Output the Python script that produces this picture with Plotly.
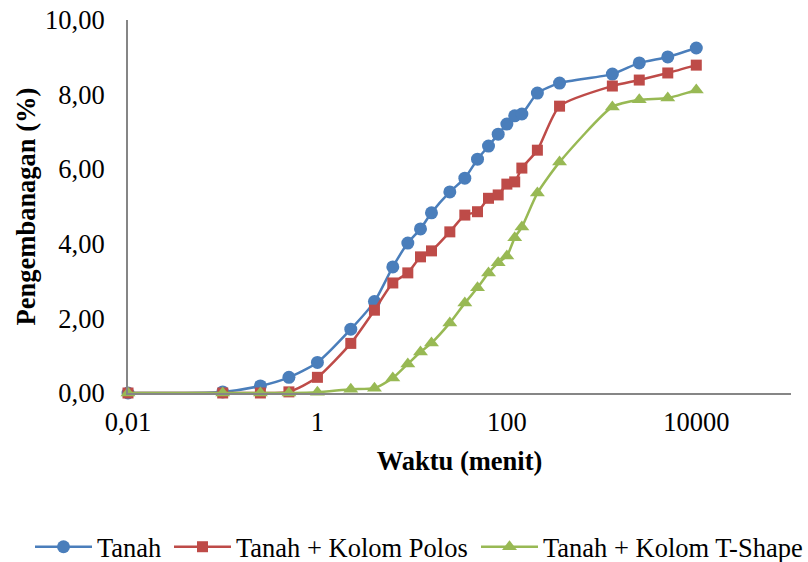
import plotly.graph_objects as go

waktu = [0.01, 0.1, 0.25, 0.5, 1, 2.25, 4, 6.25, 9, 12.25, 16, 25, 36, 49, 64, 81,
         100, 121, 144, 210, 360, 1300, 2500, 5000, 10000]
tanah = [0, 0.03, 0.19, 0.42, 0.82, 1.71, 2.45, 3.38, 4.02, 4.40, 4.83, 5.39, 5.76,
         6.27, 6.62, 6.94, 7.21, 7.43, 7.48, 8.04, 8.31, 8.55, 8.85, 9.01, 9.25]
polos = [0, 0, 0, 0.03, 0.42, 1.33, 2.22, 2.95, 3.22, 3.65, 3.81, 4.32, 4.77,
         4.86, 5.22, 5.31, 5.60, 5.66, 6.03, 6.51, 7.69, 8.23, 8.39, 8.58, 8.79]
tshape = [0, 0, 0, 0, 0.02, 0.10, 0.13, 0.40, 0.78, 1.10, 1.34, 1.88, 2.41,
          2.82, 3.22, 3.49, 3.67, 4.16, 4.45, 5.36, 6.19, 7.67, 7.86, 7.91, 8.12]

series_names = ["Tanah", "Tanah + Kolom Polos", "Tanah + Kolom T-Shape"]
x_tickvals = [0.01, 1, 100, 10000]
x_ticktext = ["0,01", "1", "100", "10000"]
y_tickvals = [0, 2, 4, 6, 8, 10]
y_ticktext = ["0,00", "2,00", "4,00", "6,00", "8,00", "10,00"]

FONT = "Liberation Serif, Times New Roman, serif"
FS = 26.5

styles = [
    dict(color="#4A7EBB", symbol="circle", size=13),
    dict(color="#BE4B48", symbol="square", size=11),
    dict(color="#98B954", symbol="triangle-up", size=13),
]
legend_ids = ["legend", "legend2", "legend3"]
legend_text_x = [97, 236, 543]

fig = go.Figure()
for name, vals, st, lg in zip(series_names, [tanah, polos, tshape], styles, legend_ids):
    fig.add_trace(go.Scatter(
        x=waktu, y=vals, name=name, mode="lines+markers", legend=lg,
        line=dict(color=st["color"], width=2.5, shape="spline", smoothing=0.6),
        marker=dict(color=st["color"], symbol=st["symbol"], size=st["size"]),
        cliponaxis=False,
    ))

legend_common = dict(orientation="h", xref="container", xanchor="left",
                     yref="container", y=(562 - 547) / 562, yanchor="middle",
                     font=dict(family=FONT, size=FS, color="black"),
                     itemwidth=57, bgcolor="rgba(0,0,0,0)")
layout_legends = {}
for lg, tx in zip(legend_ids, legend_text_x):
    layout_legends[lg] = dict(legend_common, x=(tx - 67) / 808)

fig.update_layout(
    width=808, height=562,
    margin=dict(l=128, r=17, t=20, b=169, autoexpand=False),
    paper_bgcolor="white", plot_bgcolor="white",
    font=dict(family=FONT, size=FS, color="black"),
    showlegend=True,
    **layout_legends,
)
fig.update_xaxes(
    type="log", range=[-2, 5],
    tickvals=x_tickvals, ticktext=x_ticktext,
    showgrid=False, zeroline=False,
    showline=True, linecolor="#868686", linewidth=2,
    ticks="outside", ticklen=4, tickcolor="rgba(0,0,0,0)",
    title=dict(text="<b>Waktu (menit)</b>", font=dict(family=FONT, size=FS), standoff=16),
)
fig.update_yaxes(
    range=[0, 10],
    tickvals=y_tickvals, ticktext=y_ticktext,
    showgrid=False, zeroline=False,
    showline=True, linecolor="#868686", linewidth=2,
    ticks="outside", ticklen=16, tickcolor="rgba(0,0,0,0)",
    title=dict(text="<b>Pengembanagan (%)</b>", font=dict(family=FONT, size=FS), standoff=2),
)

fig.write_html("out.html")
